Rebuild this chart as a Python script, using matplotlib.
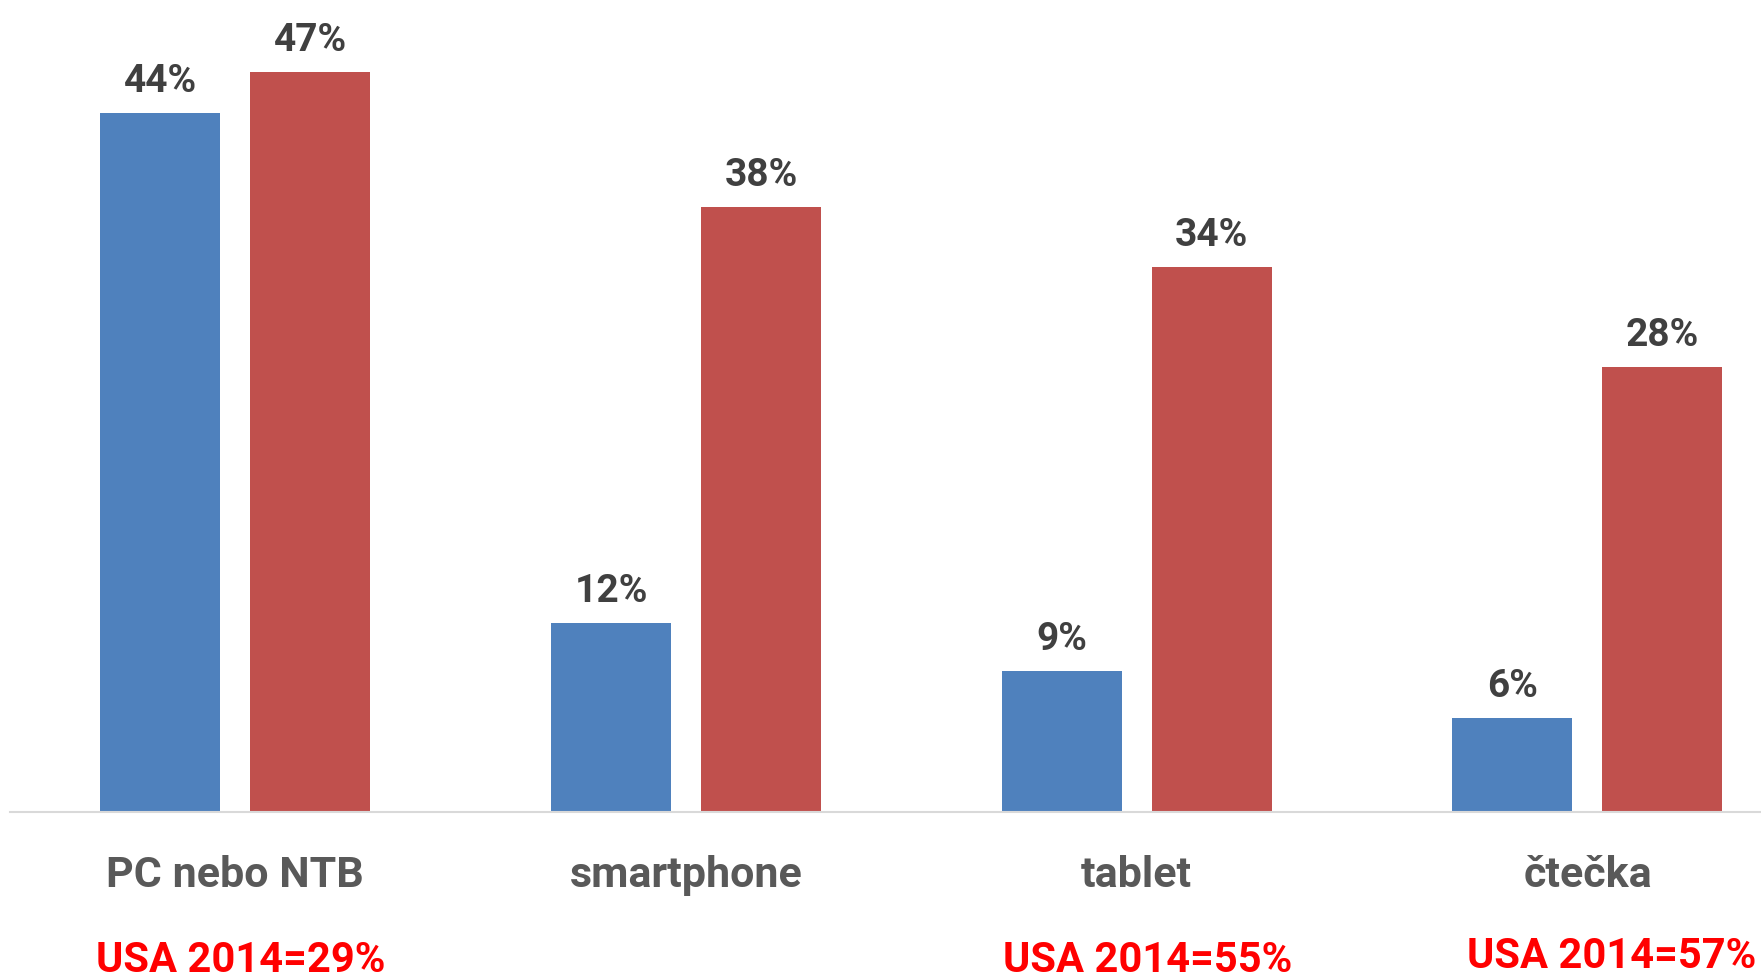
import matplotlib
matplotlib.use("Agg")
import matplotlib.pyplot as plt
import numpy as np

categories = ["PC nebo NTB", "smartphone", "tablet", "čtečka"]
series_blue = [44.0, 11.9, 8.9, 5.9]
series_red = [46.6, 38.1, 34.3, 28.0]
usa_labels = ["USA 2014=29%", "", "USA 2014=55%", "USA 2014=57%"]

FONT = ['Roboto', 'DejaVu Sans']
plt.rcParams['font.family'] = FONT

W, H = 1761, 980
fig = plt.figure(figsize=(W / 100, H / 100), dpi=100)
base_y = 812
ax = fig.add_axes([10 / W, (H - base_y) / H, (W - 10) / W, base_y / H])

x = np.arange(len(categories))
bw = 120 / 450.7
off = 75 / 450.7
blue = "#4F81BD"
red = "#C0504D"
b1 = ax.bar(x - off, series_blue, width=bw, color=blue, zorder=2)
b2 = ax.bar(x + off, series_red, width=bw, color=red, zorder=2)

for bars, vals in ((b1, series_blue), (b2, series_red)):
    for rect, v in zip(bars, vals):
        ax.annotate(f"{round(v):.0f}%", (rect.get_x() + rect.get_width() / 2, v),
                    xytext=(0, 15), textcoords="offset points",
                    ha="center", va="baseline", fontsize=28, fontweight="bold",
                    color="#404040")

ax.set_xlim(-0.5, -0.5 + (W - 10) / 450.7)
ax.set_ylim(0, base_y / 15.89)
for s in ("top", "right", "left"):
    ax.spines[s].set_visible(False)
ax.spines["bottom"].set_color("#D9D9D9")
ax.spines["bottom"].set_linewidth(1.5)
ax.set_yticks([])
ax.set_xticks([])

for i, c in enumerate(categories):
    xf = (10 + 450.7 * (i + 0.5)) / W
    fig.text(xf, (H - 887) / H, c, ha="center", va="baseline", fontsize=31,
             fontweight="bold", color="#595959")

usa_pos = [(241, 972, "center"), (0, 0, "center"), (1148, 972, "center"), (1756, 968, "right")]
for lab, (px, py, ha) in zip(usa_labels, usa_pos):
    if lab:
        fig.text(px / W, (H - py) / H, lab, ha=ha, va="baseline", fontsize=30,
                 fontweight="bold", color="#FF0000")

fig.savefig("out.png", dpi=100)
